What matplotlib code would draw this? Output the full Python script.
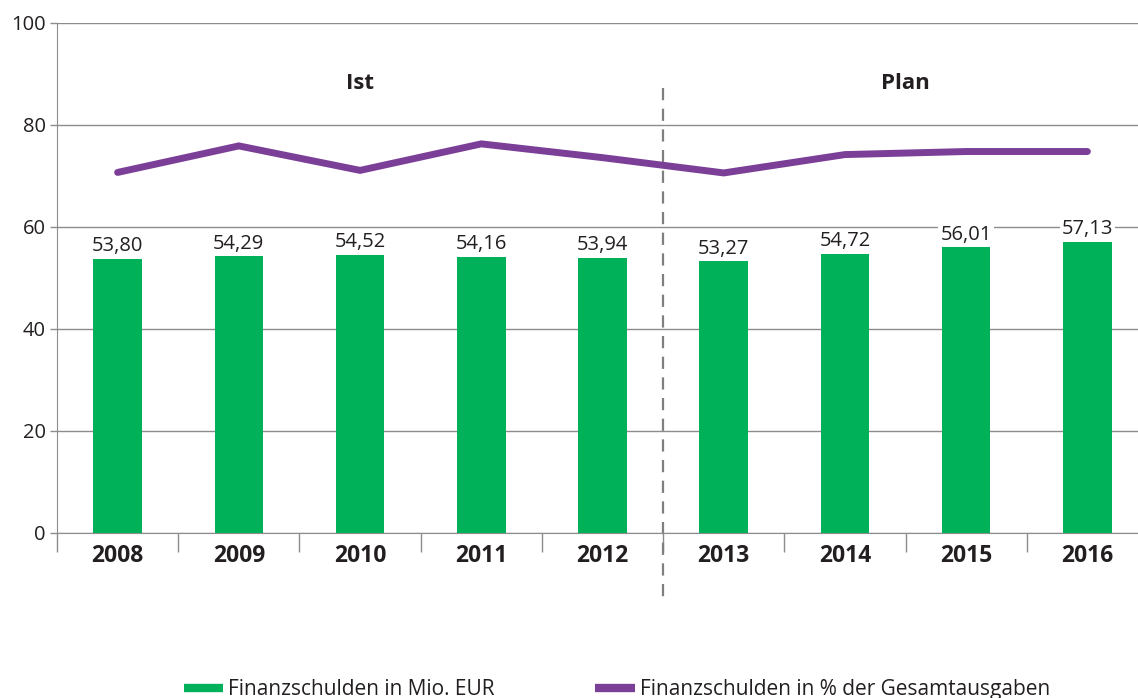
import matplotlib
matplotlib.use("Agg")
import matplotlib.pyplot as plt
from matplotlib.lines import Line2D

plt.rcParams['font.family'] = ['Open Sans', 'DejaVu Sans']

years = ["2008", "2009", "2010", "2011", "2012", "2013", "2014", "2015", "2016"]
debt_mio = [53.80, 54.29, 54.52, 54.16, 53.94, 53.27, 54.72, 56.01, 57.13]
debt_pct = [70.7, 75.9, 71.1, 76.3, 73.6, 70.6, 74.2, 74.8, 74.8]
bar_labels = ["53,80", "54,29", "54,52", "54,16", "53,94", "53,27", "54,72", "56,01", "57,13"]
yticks = [0, 20, 40, 60, 80, 100]

green = "#00B15A"
purple = "#7B3F98"
txt = "#231F20"
grey = "#8C8C8C"

fig = plt.figure(figsize=(11.38, 6.98), dpi=100)
ax = fig.add_axes([57/1138, 1-533/698, (1148-57)/1138, (533-23)/698])

x = list(range(len(years)))
ax.bar(x, debt_mio, width=0.4, color=green, zorder=3)
ax.plot(x, debt_pct, color=purple, linewidth=5, solid_capstyle='round',
        solid_joinstyle='miter', zorder=4)

for xi, v, lab in zip(x, debt_mio, bar_labels):
    ax.text(xi, v + 0.5, lab, ha='center', va='bottom', fontsize=14.5, color=txt,
            zorder=5, bbox=dict(facecolor='white', edgecolor='none', pad=1.5))

ax.set_xlim(-0.5, len(years) - 0.5)
ax.set_ylim(0, 100)
ax.set_yticks(yticks)
ax.set_yticklabels([str(t) for t in yticks], fontsize=14.5, color=txt)
ax.yaxis.grid(True, color=grey, linewidth=1.0, zorder=0)
ax.set_axisbelow(True)

ax.set_xticks(x)
ax.set_xticklabels(years, fontsize=16.5, fontweight='bold', color=txt)
ax.set_xticks([i - 0.5 for i in range(len(years) + 1)], minor=True)
ax.tick_params(axis='x', which='major', length=0, pad=8)
ax.tick_params(axis='x', which='minor', length=14, color=grey, width=1)
ax.tick_params(axis='y', length=5, color=grey, width=1, pad=3)

for s in ['top', 'right']:
    ax.spines[s].set_visible(False)
ax.spines['left'].set_color(grey)
ax.spines['bottom'].set_color(grey)

# separator between actual and plan, drawn top-down
ax.plot([4.5, 4.5], [87.3, -12.6], color="#7F7F7F", linewidth=1.6,
        linestyle=(0, (5.5, 3.8)), clip_on=False, zorder=2)

ax.text(2, 88.2, "Ist", ha='center', va='center', fontsize=16, fontweight='bold', color=txt)
ax.text(6.5, 88.2, "Plan", ha='center', va='center', fontsize=16, fontweight='bold', color=txt)

handles = [Line2D([], [], color=green, linewidth=6, solid_capstyle='butt'),
           Line2D([], [], color=purple, linewidth=6, solid_capstyle='butt')]
fig.legend(handles, ["Finanzschulden in Mio. EUR", "Finanzschulden in % der Gesamtausgaben"],
           loc='lower center', bbox_to_anchor=(0.542, -0.03), ncol=2, frameon=False,
           fontsize=15, handlelength=1.9, handletextpad=0.25, columnspacing=4.8,
           labelcolor=txt)

fig.savefig("out.png", dpi=100)
